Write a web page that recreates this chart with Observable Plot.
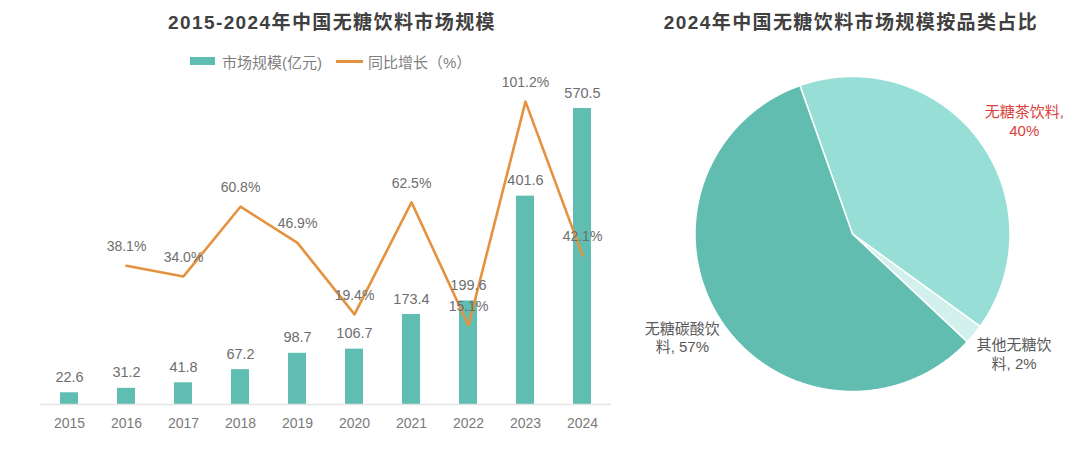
<!DOCTYPE html>
<html><head><meta charset="utf-8">
<script src="https://cdn.jsdelivr.net/npm/d3@7"></script>
<script src="https://cdn.jsdelivr.net/npm/@observablehq/plot@0.6"></script>
<style>
body{margin:0;background:#fff;font-family:"Liberation Sans","Noto Sans CJK SC",sans-serif;}
#root{position:relative;width:1080px;height:469px;overflow:hidden;background:#fff;}
.title{position:absolute;top:11px;font-weight:bold;font-size:19px;line-height:24px;color:#404040;white-space:nowrap;transform:translateX(-50%);letter-spacing:1.4px;}
.legend{position:absolute;top:52px;left:190px;height:18px;display:flex;align-items:center;font-size:15px;color:#7f7f7f;white-space:nowrap;}
.sw{display:inline-block;width:25px;height:8px;background:#5fbdb1;margin-right:7px;}
.ln{display:inline-block;width:27px;height:3px;background:#e4923f;margin:0 5px 0 14px;}
#left{position:absolute;left:0;top:0;}
#right{position:absolute;left:620px;top:0;}
</style></head>
<body><div id="root">
<div id="left"></div>
<div id="right"></div>
<div class="title" style="left:332px">2015-2024年中国无糖饮料市场规模</div>
<div class="legend"><span class="sw"></span><span>市场规模(亿元)</span><span class="ln"></span><span>同比增长（%）</span></div>
<div class="title" style="left:851px">2024年中国无糖饮料市场规模按品类占比</div>
</div>
<script>
// ---- data ----
const years = ["2015","2016","2017","2018","2019","2020","2021","2022","2023","2024"];
const marketSize = [22.6, 31.2, 41.8, 67.2, 98.7, 106.7, 173.4, 199.6, 401.6, 570.5];
const growth = [null, 38.1, 34.0, 60.8, 46.9, 19.4, 62.5, 15.1, 101.2, 42.1];
const pieCategories = ["无糖茶饮料", "其他无糖饮料", "无糖碳酸饮料"];
const pieShares = [40, 2, 57];
const pieLabels = ["无糖茶饮料,\n40%", "其他无糖饮\n料, 2%", "无糖碳酸饮\n料, 57%"];

const teal = "#5fbdb1", orange = "#e4923f", labelGray = "#6e6e6e";
const pieColors = ["#97dfd6", "#d3f1ec", "#62bdb1"];
const pieLabelColors = ["#d9413b", "#5a5a5a", "#5a5a5a"];

// ---- left chart ----
const rows = years.map((y, i) => ({year: y, size: marketSize[i], growth: growth[i]}));
const lineRows = rows.filter(d => d.growth != null);
// secondary axis (growth %) mapped into bar units
const pct = d3.scaleLinear().domain([0, 100]).range([76.5, 577.7]);

const left = Plot.plot({
  width: 620, height: 469,
  marginLeft: 40, marginRight: 9, marginTop: 70, marginBottom: 65,
  style: {fontFamily: '"Liberation Sans","Noto Sans CJK SC",sans-serif', fontSize: "14px", color: "#7a7a7a", background: "transparent"},
  x: {type: "band", domain: years, paddingInner: 0.685, paddingOuter: 0.3425, label: null, tickSize: 0, tickPadding: 14},
  y: {domain: [0, 643.8], axis: null},
  marks: [
    Plot.barY(rows, {x: "year", y: "size", fill: teal}),
    Plot.ruleY([0], {stroke: "#e4e4e4", strokeWidth: 1.5}),
    Plot.line(lineRows, {x: "year", y: d => pct(d.growth), stroke: orange, strokeWidth: 2.6}),
    Plot.text(rows, {x: "year", y: "size", text: d => d.size.toFixed(1), dy: -15.5, fill: labelGray, fontSize: 14.5}),
    Plot.text(lineRows, {x: "year", y: d => pct(d.growth), text: d => d.growth.toFixed(1) + "%", dy: -19, fill: labelGray, fontSize: 14})
  ]
});
document.getElementById("left").appendChild(left);

// ---- right chart (pie) ----
const pieArcs = d3.pie().sort(null).value(d => d)
  .startAngle(-19.5 * Math.PI / 180).endAngle(-19.5 * Math.PI / 180 + 2 * Math.PI)(pieShares);

function slicePoints(a) {
  const pts = [{x: 0, y: 0}];
  const n = Math.max(2, Math.ceil((a.endAngle - a.startAngle) / (0.5 * Math.PI / 180)));
  for (let k = 0; k <= n; k++) {
    const t = a.startAngle + (a.endAngle - a.startAngle) * k / n;
    pts.push({x: Math.sin(t), y: Math.cos(t)});
  }
  return pts;
}
const labelRows = pieArcs.map((a, i) => {
  const m = (a.startAngle + a.endAngle) / 2;
  return {x: 1.29 * Math.sin(m), y: 1.29 * Math.cos(m), text: pieLabels[i], color: pieLabelColors[i]};
});
const labelOffsets = [[9, 8], [5, -10], [0, -8]];

const right = Plot.plot({
  width: 460, height: 469, margin: 0,
  style: {fontFamily: '"Liberation Sans","Noto Sans CJK SC",sans-serif', background: "transparent"},
  x: {domain: [-1.473, 1.4476], axis: null},
  y: {domain: [-1.4952, 1.4825], axis: null},
  color: {type: "identity"},
  marks: [
    ...pieArcs.map((a, i) => Plot.line(slicePoints(a), {x: "x", y: "y", curve: "linear-closed", fill: pieColors[i], stroke: "#ffffff", strokeWidth: 1.5})),
    ...labelRows.map((r, i) => Plot.text([r], {x: "x", y: "y", text: "text", fill: "color", fontSize: 15, lineHeight: 1.25, dx: labelOffsets[i][0], dy: labelOffsets[i][1]}))
  ]
});
document.getElementById("right").appendChild(right);
</script>
</body></html>
